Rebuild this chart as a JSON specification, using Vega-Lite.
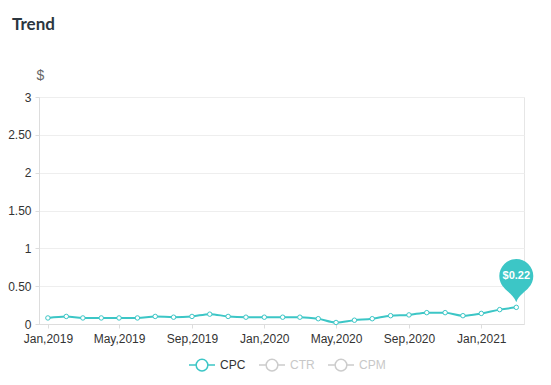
{
  "$schema": "https://vega.github.io/schema/vega-lite/v6.json",
  "width": 485,
  "height": 227,
  "autosize": {"type": "none"},
  "padding": {"left": 39, "top": 97, "right": 27, "bottom": 61},
  "background": "white",
  "title": {
    "text": "Trend",
    "anchor": "start",
    "frame": "group",
    "dx": -27,
    "offset": 34,
    "font": "Lato",
    "fontSize": 17,
    "fontWeight": "bold",
    "color": "#2b3640"
  },
  "config": {
    "view": {"stroke": "#e6e6e6", "strokeWidth": 1},
    "axis": {
      "labelFont": "Liberation Sans",
      "labelFontSize": 12,
      "labelColor": "#333333",
      "domainColor": "#dddddd",
      "tickColor": "#dddddd",
      "tickSize": 4,
      "gridColor": "#eeeeee"
    }
  },
  "data": {
    "values": [
      {"month": "2019-01-01", "cpc": 0.08, "metric": "CPC"},
      {"month": "2019-02-01", "cpc": 0.10, "metric": "CPC"},
      {"month": "2019-03-01", "cpc": 0.08, "metric": "CPC"},
      {"month": "2019-04-01", "cpc": 0.08, "metric": "CPC"},
      {"month": "2019-05-01", "cpc": 0.08, "metric": "CPC"},
      {"month": "2019-06-01", "cpc": 0.08, "metric": "CPC"},
      {"month": "2019-07-01", "cpc": 0.10, "metric": "CPC"},
      {"month": "2019-08-01", "cpc": 0.09, "metric": "CPC"},
      {"month": "2019-09-01", "cpc": 0.10, "metric": "CPC"},
      {"month": "2019-10-01", "cpc": 0.13, "metric": "CPC"},
      {"month": "2019-11-01", "cpc": 0.10, "metric": "CPC"},
      {"month": "2019-12-01", "cpc": 0.09, "metric": "CPC"},
      {"month": "2020-01-01", "cpc": 0.09, "metric": "CPC"},
      {"month": "2020-02-01", "cpc": 0.09, "metric": "CPC"},
      {"month": "2020-03-01", "cpc": 0.09, "metric": "CPC"},
      {"month": "2020-04-01", "cpc": 0.07, "metric": "CPC"},
      {"month": "2020-05-01", "cpc": 0.02, "metric": "CPC"},
      {"month": "2020-06-01", "cpc": 0.05, "metric": "CPC"},
      {"month": "2020-07-01", "cpc": 0.07, "metric": "CPC"},
      {"month": "2020-08-01", "cpc": 0.11, "metric": "CPC"},
      {"month": "2020-09-01", "cpc": 0.12, "metric": "CPC"},
      {"month": "2020-10-01", "cpc": 0.15, "metric": "CPC"},
      {"month": "2020-11-01", "cpc": 0.15, "metric": "CPC"},
      {"month": "2020-12-01", "cpc": 0.11, "metric": "CPC"},
      {"month": "2021-01-01", "cpc": 0.14, "metric": "CPC"},
      {"month": "2021-02-01", "cpc": 0.19, "metric": "CPC"},
      {"month": "2021-03-01", "cpc": 0.22, "metric": "CPC"}
    ]
  },
  "encoding": {
    "x": {
      "field": "month",
      "type": "temporal",
      "scale": {
        "type": "utc",
        "domain": [
          {"year": 2018, "month": 12, "date": 17, "utc": true},
          {"year": 2021, "month": 3, "date": 14, "utc": true}
        ]
      },
      "axis": {
        "title": null,
        "format": "%b,%Y",
        "tickCount": {"interval": "month", "step": 4},
        "grid": false,
        "labelPadding": 5,
        "labelAlign": "center"
      }
    },
    "y": {
      "field": "cpc",
      "type": "quantitative",
      "scale": {"domain": [0, 3], "nice": false},
      "axis": {
        "values": [0, 0.5, 1, 1.5, 2, 2.5, 3],
        "labelExpr": "datum.value % 1 === 0 ? format(datum.value, 'd') : format(datum.value, '.2f')",
        "labelPadding": 4,
        "title": "$",
        "titleAngle": 0,
        "titleX": 1,
        "titleY": -22,
        "titleAlign": "center",
        "titleBaseline": "middle",
        "titleFont": "Liberation Sans",
        "titleFontSize": 14,
        "titleFontWeight": "normal",
        "titleColor": "#666666"
      }
    }
  },
  "layer": [
    {
      "mark": {"type": "line", "strokeWidth": 2, "interpolate": "monotone"},
      "encoding": {
        "color": {
          "field": "metric",
          "type": "nominal",
          "scale": {"domain": ["CPC", "CTR", "CPM"], "range": ["#3cc6c6", "#cccccc", "#cccccc"]},
          "legend": {
            "title": null,
            "orient": "none",
            "legendX": 149,
            "legendY": 254,
            "direction": "horizontal",
            "symbolType": "M-1,0L-0.45,0M0.45,0L1,0M0.45,0A0.45,0.45 0 1,1 -0.45,0A0.45,0.45 0 1,1 0.45,0",
            "symbolSize": 676,
            "symbolStrokeWidth": 1.5,
            "labelFont": "Liberation Sans",
            "labelFontSize": 12,
            "labelOffset": 4,
            "columnPadding": 10,
            "encode": {
              "symbols": {"update": {"fill": {"value": "white"}, "opacity": {"value": 1}}},
              "labels": {"update": {"fill": {"signal": "datum.label === 'CPC' ? '#333333' : '#c8c8c8'"}}}
            }
          }
        }
      }
    },
    {
      "mark": {"type": "point", "shape": "circle", "size": 20, "filled": true, "fill": "white", "stroke": "#3cc6c6", "strokeWidth": 1, "opacity": 1}
    },
    {
      "transform": [{"filter": "utcyear(datum.month) === 2021 && utcmonth(datum.month) === 2"}],
      "mark": {
        "type": "point",
        "shape": "M0,-0.3C-0.15,-0.75 -0.6,-0.95 -0.72,-1.15A1,1 0 1,1 0.72,-1.15C0.6,-0.95 0.15,-0.75 0,-0.3Z",
        "size": 1156,
        "filled": true,
        "fill": "#3cc6c6",
        "strokeWidth": 0,
        "opacity": 1
      }
    },
    {
      "transform": [{"filter": "utcyear(datum.month) === 2021 && utcmonth(datum.month) === 2"}],
      "mark": {
        "type": "text",
        "yOffset": -31,
        "font": "Liberation Sans",
        "fontSize": 11,
        "fontWeight": "bold",
        "color": "white",
        "align": "center",
        "baseline": "middle"
      },
      "encoding": {
        "text": {"field": "cpc", "type": "quantitative", "format": "$.2f"}
      }
    }
  ]
}
